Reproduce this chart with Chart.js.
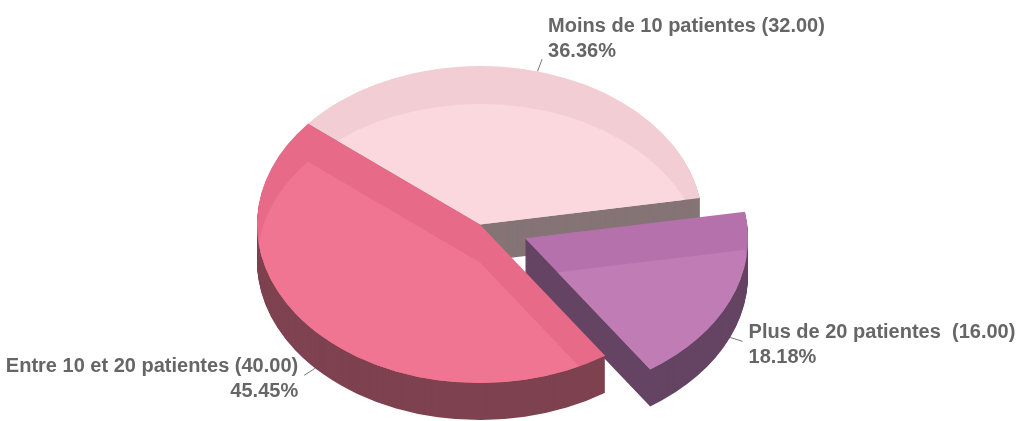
<!DOCTYPE html>
<html><head>
<meta charset="utf-8">
<title>Répartition des patientes</title>
<script src="https://cdn.jsdelivr.net/npm/chart.js@4"></script>
<style>
html, body { margin: 0; padding: 0; background: #fff; }
.chart-container { width: 1026px; height: 421px; position: relative; }
</style></head><body>
<div class="chart-container"><canvas id="chart"></canvas></div>
<script>
// Slices in clockwise order as they sit on the pie
const CATEGORIES = ['Moins de 10 patientes', 'Plus de 20 patientes ', 'Entre 10 et 20 patientes'];
const VALUES = [32, 16, 40];
const EXPLODE = [0, 49, 0]; // px pulled out of the pie

const TOP_RIM = ['#F2CDD3', '#B571AB', '#E76B88'];
const TOP_FILL = ['#FAD8DE', '#C07CB5', '#F07592'];
const SIDE = ['#857476', '#654463', '#7E4250'];

const TILT = 0.711;   // vertical squash of the disc
const DEPTH = 37;     // thickness in px
const SHINE = 38;     // shift of the lighter top overlay
const LINE_GAP = 25;  // label line spacing
const TOTAL = VALUES.reduce((a, b) => a + b, 0);

function tracePath(ctx, arc) {
  const mid = (arc.startAngle + arc.endAngle) / 2;
  const off = arc.options.offset || 0;
  const ox = Math.cos(mid) * off, oy = Math.sin(mid) * off;
  ctx.beginPath();
  ctx.moveTo(ox, oy);
  ctx.arc(ox, oy, arc.outerRadius, arc.startAngle, arc.endAngle);
  ctx.closePath();
}

const pie3d = {
  id: 'pie3d',
  beforeDatasetsDraw(chart) {
    const ctx = chart.ctx;
    const arcs = chart.getDatasetMeta(0).data;

    // side walls, stacked layer by layer from the bottom up
    for (let d = DEPTH; d >= 1; d--) {
      arcs.forEach((arc, i) => {
        ctx.save();
        ctx.translate(arc.x, arc.y + d);
        ctx.scale(1, TILT);
        tracePath(ctx, arc);
        ctx.fillStyle = SIDE[i];
        ctx.fill();
        ctx.restore();
      });
    }

    // top faces: darker rim, lighter copy shifted down and clipped
    arcs.forEach((arc, i) => {
      ctx.save();
      ctx.translate(arc.x, arc.y);
      ctx.scale(1, TILT);
      tracePath(ctx, arc);
      ctx.fillStyle = TOP_RIM[i];
      ctx.fill();
      ctx.clip();
      ctx.translate(0, SHINE / TILT);
      tracePath(ctx, arc);
      ctx.fillStyle = TOP_FILL[i];
      ctx.fill();
      ctx.restore();
    });

    // labels
    ctx.save();
    ctx.font = 'bold 20px "Liberation Sans", Arial, sans-serif';
    ctx.fillStyle = '#666';
    ctx.strokeStyle = '#777';
    ctx.lineWidth = 1;
    ctx.textBaseline = 'alphabetic';
    arcs.forEach((arc, i) => {
      const mid = (arc.startAngle + arc.endAngle) / 2;
      const off = arc.options.offset || 0;
      const cx = arc.x + Math.cos(mid) * off;
      const cy = arc.y + Math.sin(mid) * off * TILT;
      const lower = Math.sin(mid) > 0;
      const ax = cx + Math.cos(mid) * arc.outerRadius;
      const ay = cy + Math.sin(mid) * arc.outerRadius * TILT + (lower ? DEPTH : 0);
      let dx = Math.cos(mid), dy = Math.sin(mid) * TILT;
      const n = Math.hypot(dx, dy); dx /= n; dy /= n;
      const ex = ax + dx * 13, ey = ay + dy * 13;
      ctx.beginPath();
      ctx.moveTo(ax, ay);
      ctx.lineTo(ex, ey);
      ctx.stroke();

      const right = dx >= 0;
      ctx.textAlign = right ? 'left' : 'right';
      const tx = ex + (right ? 6 : -6);
      const b1 = lower ? ey - 3 : ey - 2 - LINE_GAP;
      const pct = (VALUES[i] / TOTAL * 100).toFixed(2) + '%';
      ctx.fillText(`${CATEGORIES[i]} (${VALUES[i].toFixed(2)})`, tx, b1);
      ctx.fillText(pct, tx, b1 + LINE_GAP);
    });
    ctx.restore();
    return false;
  }
};

new Chart(document.getElementById('chart'), {
  type: 'pie',
  data: {
    labels: CATEGORIES,
    datasets: [{ data: VALUES, offset: EXPLODE, backgroundColor: TOP_FILL, borderWidth: 0 }]
  },
  options: {
    responsive: true, maintainAspectRatio: false,
    devicePixelRatio: 1,
    animation: false,
    events: [],
    rotation: -50.5,
    radius: 223,
    layout: { padding: { left: 0, right: 66, top: 28, bottom: 0 } },
    plugins: { legend: { display: false }, tooltip: { enabled: false } }
  },
  plugins: [pie3d]
});
</script></body></html>
